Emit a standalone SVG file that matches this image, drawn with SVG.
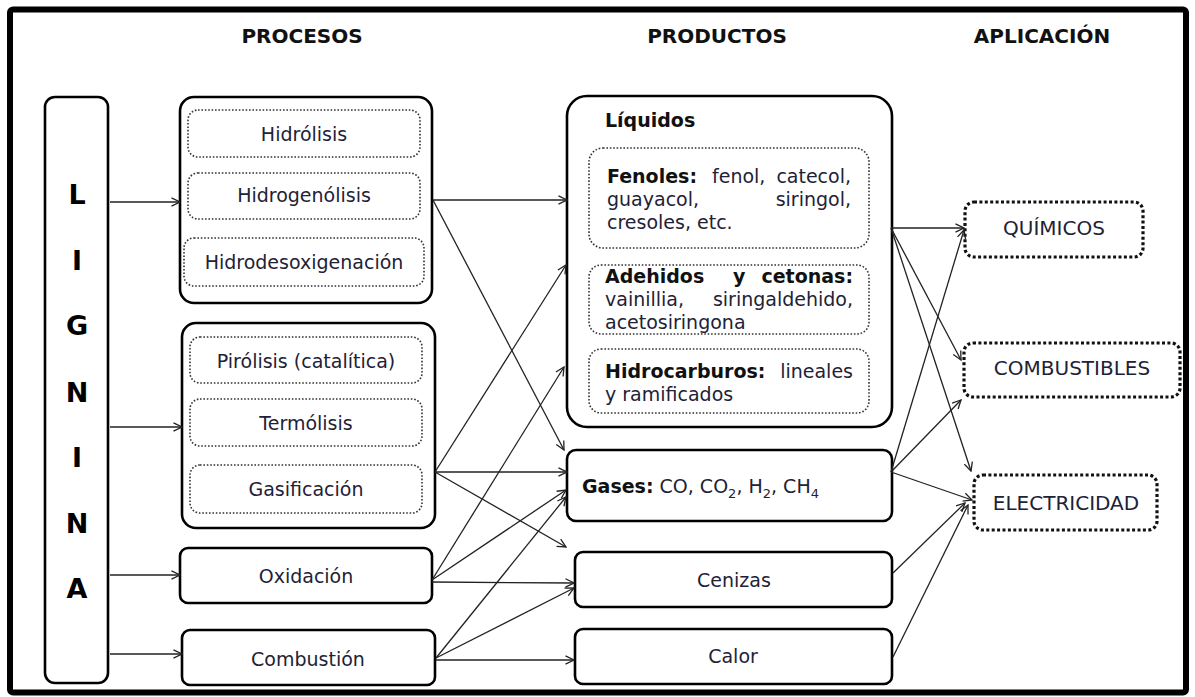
<svg xmlns="http://www.w3.org/2000/svg" width="1195" height="697" viewBox="0 0 1195 697">
<defs>
<marker id="ah" viewBox="0 0 10 10" refX="9" refY="5" markerWidth="10" markerHeight="10" markerUnits="userSpaceOnUse" orient="auto">
<path d="M0.5,0.8 L9,5 L0.5,9.2" fill="none" stroke="#222" stroke-width="1.3"/>
</marker>
</defs>
<style>
.frame{fill:none;stroke:#000;stroke-width:6}
.box{fill:#fff;stroke:#000;stroke-width:2.6}
.dot{fill:none;stroke:#333;stroke-width:1.6;stroke-dasharray:1.6 1.8}
.app{fill:#fff;stroke:#111;stroke-width:3.2;stroke-dasharray:3 2.4}
.hdr{font-family:"DejaVu Sans",sans-serif;font-weight:bold;font-size:20px;fill:#111;text-anchor:middle}
.lig{font-family:"DejaVu Sans",sans-serif;font-weight:bold;font-size:27px;fill:#000;text-anchor:middle}
.t{font-family:"DejaVu Sans",sans-serif;font-size:19px;fill:#1e2236}
.c{text-anchor:middle}
.e{text-anchor:end}
.b{font-weight:bold;fill:#111}
.ap{font-size:20px}
.conn line{stroke:#222;stroke-width:1.3;marker-end:url(#ah)}
</style>
<rect x="0" y="0" width="1195" height="697" fill="#fff"/>
<rect class="frame" x="10" y="9.5" width="1176" height="683" rx="3"/>

<g id="headers">
<text class="hdr" x="302" y="43">PROCESOS</text>
<text class="hdr" x="717" y="43">PRODUCTOS</text>
<text class="hdr" x="1042" y="43">APLICACIÓN</text>
</g>

<g id="lignina">
<rect class="box" x="45" y="97" width="63" height="586" rx="10"/>
<text class="lig" x="77" y="204">L</text>
<text class="lig" x="77" y="270">I</text>
<text class="lig" x="77" y="335">G</text>
<text class="lig" x="77" y="402">N</text>
<text class="lig" x="77" y="467">I</text>
<text class="lig" x="77" y="533">N</text>
<text class="lig" x="77" y="598">A</text>
</g>

<g id="procesos-hidro">
<rect class="box" x="180" y="97" width="252" height="206" rx="14"/>
<rect class="dot" x="188" y="110" width="232" height="47" rx="10"/>
<text class="t c" x="304" y="141">Hidrólisis</text>
<rect class="dot" x="188" y="173" width="232" height="46" rx="10"/>
<text class="t c" x="304" y="202">Hidrogenólisis</text>
<rect class="dot" x="184" y="238" width="240" height="48" rx="10"/>
<text class="t c" x="304" y="269">Hidrodesoxigenación</text>
</g>

<g id="procesos-termo">
<rect class="box" x="182" y="323" width="253" height="205" rx="14"/>
<rect class="dot" x="190" y="337" width="232" height="46" rx="10"/>
<text class="t c" x="306" y="368">Pirólisis (catalítica)</text>
<rect class="dot" x="190" y="399" width="232" height="47" rx="10"/>
<text class="t c" x="306" y="430">Termólisis</text>
<rect class="dot" x="190" y="465" width="232" height="48" rx="10"/>
<text class="t c" x="306" y="496">Gasificación</text>
</g>

<g id="oxidacion">
<rect class="box" x="180" y="548" width="252" height="55" rx="8"/>
<text class="t c" x="306" y="583">Oxidación</text>
</g>

<g id="combustion">
<rect class="box" x="182" y="630" width="253" height="55" rx="8"/>
<text class="t c" x="308" y="666">Combustión</text>
</g>

<g id="liquidos">
<rect class="box" x="567" y="96" width="325" height="331" rx="20"/>
<text class="t b" x="605" y="127">Líquidos</text>
<rect class="dot" x="589" y="148" width="280" height="100" rx="14"/>
<text class="t" x="607" y="183"><tspan class="b">Fenoles:</tspan></text>
<text class="t" x="712" y="183">fenol,</text>
<text class="t e" x="851" y="183">catecol,</text>
<text class="t" x="607" y="206">guayacol,</text>
<text class="t e" x="851" y="206">siringol,</text>
<text class="t" x="607" y="229">cresoles, etc.</text>
<rect class="dot" x="589" y="265" width="280" height="69" rx="12"/>
<text class="t b" x="605" y="283">Adehidos</text>
<text class="t b" x="733" y="283">y</text>
<text class="t b e" x="853" y="283">cetonas:</text>
<text class="t" x="605" y="306">vainillia,</text>
<text class="t e" x="853" y="306">siringaldehido,</text>
<text class="t" x="605" y="329">acetosiringona</text>
<rect class="dot" x="589" y="349" width="280" height="64" rx="12"/>
<text class="t b" x="605" y="378">Hidrocarburos:</text>
<text class="t e" x="853" y="378">lineales</text>
<text class="t" x="605" y="401">y ramificados</text>
</g>

<g id="gases">
<rect class="box" x="567" y="450" width="325" height="71" rx="9"/>
<text class="t" x="582" y="493"><tspan class="b">Gases:</tspan> CO, CO<tspan font-size="13" dy="5">2</tspan><tspan dy="-5">, H</tspan><tspan font-size="13" dy="5">2</tspan><tspan dy="-5">, CH</tspan><tspan font-size="13" dy="5">4</tspan></text>
</g>

<g id="cenizas">
<rect class="box" x="575" y="552" width="317" height="55" rx="8"/>
<text class="t c" x="734" y="587">Cenizas</text>
</g>

<g id="calor">
<rect class="box" x="575" y="629" width="317" height="55" rx="8"/>
<text class="t c" x="733" y="663">Calor</text>
</g>

<g id="quimicos">
<rect class="app" x="965" y="202" width="178" height="55" rx="9"/>
<text class="t c ap" x="1054" y="235">QUÍMICOS</text>
</g>

<g id="combustibles">
<rect class="app" x="964" y="343" width="216" height="54" rx="9"/>
<text class="t c ap" x="1072" y="375">COMBUSTIBLES</text>
</g>

<g id="electricidad">
<rect class="app" x="974" y="475" width="183" height="55" rx="9"/>
<text class="t c ap" x="1066" y="510">ELECTRICIDAD</text>
</g>

<g id="connectors" class="conn">
<line x1="110" y1="202" x2="180" y2="202"/>
<line x1="110" y1="427" x2="182" y2="427"/>
<line x1="110" y1="575" x2="180" y2="575"/>
<line x1="110" y1="654" x2="182" y2="654"/>
<line x1="433" y1="200" x2="567" y2="200"/>
<line x1="433" y1="200" x2="564" y2="450"/>
<line x1="435" y1="472" x2="566" y2="265"/>
<line x1="435" y1="472" x2="567" y2="472"/>
<line x1="435" y1="472" x2="566" y2="547"/>
<line x1="432" y1="580" x2="564" y2="367"/>
<line x1="432" y1="580" x2="566" y2="490"/>
<line x1="432" y1="582" x2="574" y2="583"/>
<line x1="436" y1="658" x2="566" y2="497"/>
<line x1="436" y1="658" x2="574" y2="588"/>
<line x1="436" y1="660" x2="574" y2="660"/>
<line x1="891" y1="228" x2="964" y2="228"/>
<line x1="891" y1="228" x2="961" y2="360"/>
<line x1="891" y1="228" x2="971" y2="471"/>
<line x1="891" y1="472" x2="964" y2="230"/>
<line x1="891" y1="472" x2="961" y2="400"/>
<line x1="891" y1="472" x2="972" y2="500"/>
<line x1="893" y1="573" x2="965" y2="503"/>
<line x1="893" y1="657" x2="968" y2="505"/>
</g>
</svg>
